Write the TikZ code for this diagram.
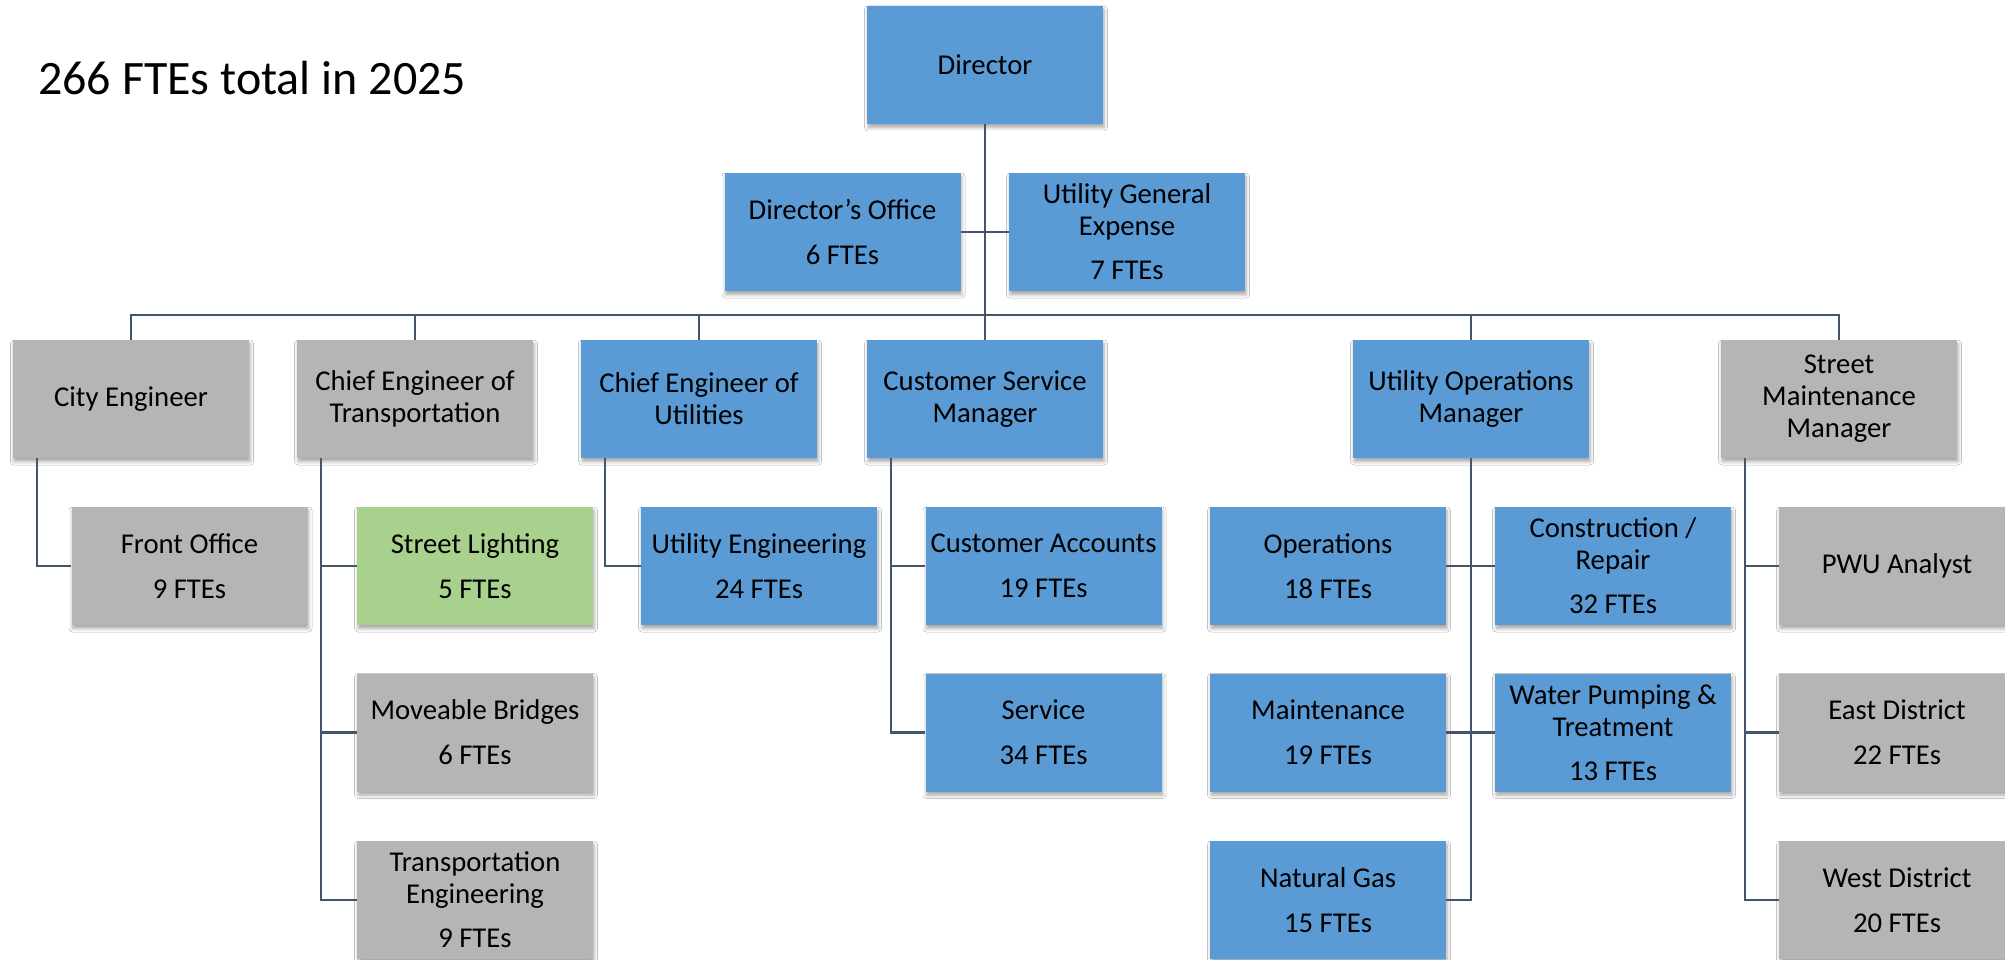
\documentclass[tikz,border=0pt]{standalone}
\usepackage{fontspec}
\setmainfont{Carlito}
\usetikzlibrary{shadows.blur}
\definecolor{bblue}{HTML}{5B9BD5}
\definecolor{bgray}{HTML}{B5B5B5}
\definecolor{bgreen}{HTML}{A9D18E}
\definecolor{lnc}{HTML}{44546A}
\tikzset{
  box/.style={rectangle, minimum width=236pt, minimum height=118pt, inner sep=0pt,
    align=center, font=\fontsize{28.7}{32}\selectfont, text=black,
    blur shadow={shadow xshift=1pt, shadow yshift=-3.5pt, shadow blur radius=3.5pt, shadow opacity=35}},
  bluebox/.style={box, fill=bblue},
  graybox/.style={box, fill=bgray},
  greenbox/.style={box, fill=bgreen},
  conn/.style={draw=lnc, line width=2.6pt},
}
\begin{document}
\begin{tikzpicture}[x=1pt,y=-1pt]
\useasboundingbox (0,0) rectangle (2005,960);
\clip (0,0) rectangle (2005,960);
\fill[white] (0,0) rectangle (2005,960);

\node[anchor=base west, font=\fontsize{48}{56}\selectfont, inner sep=0pt] (title) at (38,95) {266 FTEs total in 2025};

% level 0/1
\node[bluebox] (dir) at (985,65) {Director};
\node[bluebox] (do) at (842.5,232) {Director’s Office\\[13pt]6 FTEs};
\node[bluebox] (uge) at (1127,232) {Utility General\\Expense\\[12pt]7 FTEs};

% level 2
\node[graybox] (ce)  at (131,399) {City Engineer};
\node[graybox] (cet) at (415,399) {Chief Engineer of\\Transportation};
\node[bluebox] (ceu) at (699,399) {Chief Engineer of\\Utilities};
\node[bluebox] (csm) at (985,399) {Customer Service\\Manager};
\node[bluebox] (uom) at (1471,399) {Utility Operations\\Manager};
\node[graybox] (smm) at (1839,399) {Street\\Maintenance\\Manager};

% level 3
\node[graybox]  (fo)  at (189.5,566) {Front Office\\[13pt]9 FTEs};
\node[greenbox] (sl)  at (475,566) {Street Lighting\\[13pt]5 FTEs};
\node[graybox]  (mb)  at (475,732.5) {Moveable Bridges\\[13pt]6 FTEs};
\node[graybox]  (te)  at (475,900) {Transportation\\Engineering\\[12pt]9 FTEs};
\node[bluebox]  (ue)  at (759,566) {Utility Engineering\\[13pt]24 FTEs};
\node[bluebox]  (ca)  at (1043.5,566) {Customer Accounts\\[13pt]19 FTEs};
\node[bluebox]  (svc) at (1043.5,732.5) {Service\\[13pt]34 FTEs};
\node[bluebox]  (ops) at (1328,566) {Operations\\[13pt]18 FTEs};
\node[bluebox]  (mnt) at (1328,732.5) {Maintenance\\[13pt]19 FTEs};
\node[bluebox]  (ng)  at (1328,900) {Natural Gas\\[13pt]15 FTEs};
\node[bluebox]  (cr)  at (1613,566) {Construction /\\Repair\\[12pt]32 FTEs};
\node[bluebox]  (wp)  at (1613,732.5) {Water Pumping \&\\Treatment\\[12pt]13 FTEs};
\node[graybox]  (pwu) at (1897,566) {PWU Analyst};
\node[graybox]  (ed)  at (1897,732.5) {East District\\[13pt]22 FTEs};
\node[graybox]  (wd)  at (1897,900) {West District\\[13pt]20 FTEs};

% connectors
\coordinate (bus) at (985,315);
\draw[conn] (dir.south) -- (csm.north);
\draw[conn] (do.east) -- (uge.west);
\draw[conn] (ce.north) -- (ce.north |- bus) -- (smm.north |- bus) -- (smm.north);
\draw[conn] (cet.north) -- (cet.north |- bus);
\draw[conn] (ceu.north) -- (ceu.north |- bus);
\draw[conn] (uom.north) -- (uom.north |- bus);

\coordinate (cel) at ([xshift=24pt]ce.south west);
\draw[conn] (cel) |- (fo.west);

\coordinate (cetl) at ([xshift=24pt]cet.south west);
\draw[conn] (cetl) |- (te.west);
\draw[conn] (cetl |- sl.west) -- (sl.west);
\draw[conn] (cetl |- mb.west) -- (mb.west);

\coordinate (ceul) at ([xshift=24pt]ceu.south west);
\draw[conn] (ceul) |- (ue.west);

\coordinate (csml) at ([xshift=24pt]csm.south west);
\draw[conn] (csml) |- (svc.west);
\draw[conn] (csml |- ca.west) -- (ca.west);

\draw[conn] (uom.south) |- (ng.east);
\draw[conn] (ops.east) -- (cr.west);
\draw[conn] (mnt.east) -- (wp.west);

\coordinate (smml) at ([xshift=24pt]smm.south west);
\draw[conn] (smml) |- (wd.west);
\draw[conn] (smml |- pwu.west) -- (pwu.west);
\draw[conn] (smml |- ed.west) -- (ed.west);
\end{tikzpicture}
\end{document}
